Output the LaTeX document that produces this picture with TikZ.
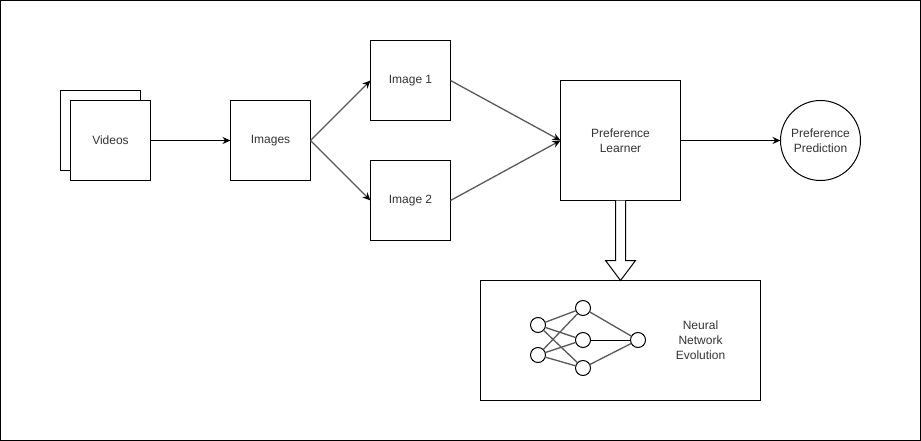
\documentclass[tikz,border=0pt]{standalone}
\usepackage{fontspec}
\setmainfont{Liberation Sans}
\usetikzlibrary{arrows.meta}
\definecolor{txt}{HTML}{333333}
\definecolor{gline}{HTML}{595959}
\tikzset{
  x=1pt,y=-1pt,
  boxn/.style={draw=black,fill=white,line width=1pt,rectangle,minimum width=#1,minimum height=#1,inner sep=0pt,outer sep=0pt,align=center,text=txt,font=\fontsize{12}{15}\selectfont},
  neuron/.style={draw=black,fill=white,line width=1pt,circle,minimum size=15pt,inner sep=0pt,outer sep=0pt},
  conn/.style={draw=black,line width=1pt,-{Stealth[length=8pt,width=7pt]}},
  gconn/.style={draw=gline,line width=1.3pt,-{Stealth[length=8pt,width=7pt,color=black]}},
  edgeg/.style={draw=gline,line width=1.3pt},
  edgek/.style={draw=black,line width=1pt},
  lbl/.style={align=center,text=txt,inner sep=0pt,font=\fontsize{12}{15}\selectfont}
}
\begin{document}
\begin{tikzpicture}
\useasboundingbox (0,0) rectangle (921,441);
\node[draw=black,line width=1pt,minimum width=920pt,minimum height=440pt,inner sep=0pt,outer sep=0pt] (frame) at (460.5,220.5) {};
\node[boxn=80pt] (videosback) at (100.5,130.5) {};
\node[boxn=80pt] (videos) at (110.5,140.5) {Videos};
\node[boxn=80pt] (images) at (270.5,140.5) {Images};
\node[boxn=80pt] (img1) at (410.5,80.5) {Image 1};
\node[boxn=80pt] (img2) at (410.5,200.5) {Image 2};
\node[boxn=120pt] (learner) at (620.5,140.5) {Preference\\Learner};
\node[draw=black,fill=white,line width=1pt,circle,minimum size=80pt,inner sep=0pt,outer sep=0pt,align=center,text=txt,font=\fontsize{12}{15}\selectfont] (pred) at (820.5,140.5) {Preference\\Prediction};
\node[draw=black,fill=white,line width=1pt,minimum width=280pt,minimum height=120pt,inner sep=0pt,outer sep=0pt] (nne) at (620.5,340.5) {};
\node[lbl] (nnelabel) at (700.5,340.5) {Neural\\Network\\Evolution};
\draw[conn] (videos.east) -- (images.west);
\draw[gconn] (images.east) -- (img1.west);
\draw[gconn] (images.east) -- (img2.west);
\draw[gconn] (img1.east) -- (learner.west);
\draw[gconn] (img2.east) -- (learner.west);
\draw[conn] (learner.east) -- (pred.west);
% hollow block arrow
\coordinate (blocktop) at (learner.south);
\coordinate (blocktip) at (nne.north);
\draw[black,line width=1pt,fill=white,line join=miter]
  ([xshift=-5pt]blocktop) -- ([xshift=-5pt,yshift=-60pt]blocktop) -- ([xshift=-15pt,yshift=-60pt]blocktop)
  -- (blocktip) -- ([xshift=15pt,yshift=-60pt]blocktop) -- ([xshift=5pt,yshift=-60pt]blocktop) -- ([xshift=5pt]blocktop);
% network
\node[neuron] (a1) at (538,325) {};
\node[neuron] (a2) at (538,355) {};
\node[neuron] (b1) at (583,308) {};
\node[neuron] (b2) at (583,340) {};
\node[neuron] (b3) at (583,368) {};
\node[neuron] (c) at (638,340) {};
\draw[edgeg] (a1) -- (b1);
\draw[edgeg] (a1) -- (b2);
\draw[edgeg] (a1) -- (b3);
\draw[edgeg] (a2) -- (b1);
\draw[edgeg] (a2) -- (b2);
\draw[edgeg] (a2) -- (b3);
\draw[edgeg] (b1) -- (c);
\draw[edgek] (b2) -- (c);
\draw[edgeg] (b3) -- (c);
\end{tikzpicture}
\end{document}
